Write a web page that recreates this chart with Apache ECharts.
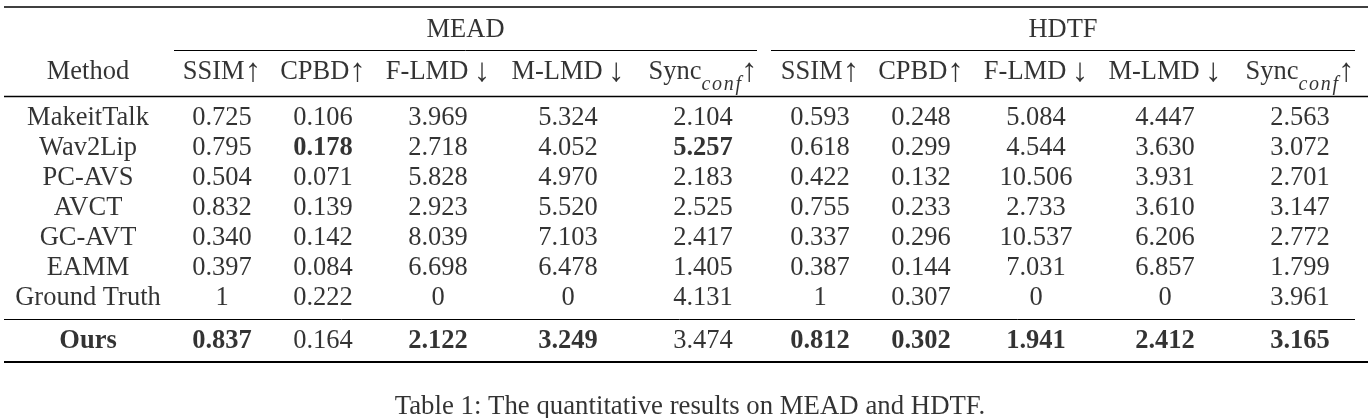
<!DOCTYPE html>
<html>
<head>
<meta charset="utf-8">
<script src="https://cdn.jsdelivr.net/npm/echarts@6/dist/echarts.min.js"></script>
<style>
  html, body { margin: 0; padding: 0; background: #fff; }
  #chart { width: 1372px; height: 418px; }
</style>
</head>
<body>
<div id="chart"></div>
<script>
// ---------------- data ----------------
const methods = ['MakeitTalk', 'Wav2Lip', 'PC-AVS', 'AVCT', 'GC-AVT', 'EAMM', 'Ground Truth', 'Ours'];
const datasets = ['MEAD', 'HDTF'];
const metricNames = ['SSIM', 'CPBD', 'F-LMD', 'M-LMD', 'Sync'];
const metricArrows = ['↑', '↑', '↓', '↓', '↑'];

const meadSSIM = [0.725, 0.795, 0.504, 0.832, 0.340, 0.397, 1, 0.837];
const meadCPBD = [0.106, 0.178, 0.071, 0.139, 0.142, 0.084, 0.222, 0.164];
const meadFLMD = [3.969, 2.718, 5.828, 2.923, 8.039, 6.698, 0, 2.122];
const meadMLMD = [5.324, 4.052, 4.970, 5.520, 7.103, 6.478, 0, 3.249];
const meadSync = [2.104, 5.257, 2.183, 2.525, 2.417, 1.405, 4.131, 3.474];

const hdtfSSIM = [0.593, 0.618, 0.422, 0.755, 0.337, 0.387, 1, 0.812];
const hdtfCPBD = [0.248, 0.299, 0.132, 0.233, 0.296, 0.144, 0.307, 0.302];
const hdtfFLMD = [5.084, 4.544, 10.506, 2.733, 10.537, 7.031, 0, 1.941];
const hdtfMLMD = [4.447, 3.630, 3.931, 3.610, 6.206, 6.857, 0, 2.412];
const hdtfSync = [2.563, 3.072, 2.701, 3.147, 2.772, 1.799, 3.961, 3.165];

// bold (best) cells: [method, column index among the 10 metric columns]
const boldCells = [
  ['Wav2Lip', 1], ['Wav2Lip', 4],
  ['Ours', 0], ['Ours', 2], ['Ours', 3],
  ['Ours', 5], ['Ours', 6], ['Ours', 7], ['Ours', 8], ['Ours', 9]
];
const boldMethods = ['Ours'];
const caption = 'Table 1: The quantitative results on MEAD and HDTF.';

// ---------------- layout (positions / styles) ----------------
const W = 1372, H = 418;
const FONT = '"Liberation Serif", "Times New Roman", "DejaVu Serif", serif';
const FS = 26.5;
const colX = [88, 222, 323, 438, 568, 703, 820, 921, 1036, 1165, 1300]; // method + 10 metric columns
const groupSpan = [[174, 757], [771, 1355]];
const rowTitleY = 28, rowHeadY = 70, bodyY0 = 116, bodyStep = 30, oursY = 339, captionY = 405;
const textDY = 2;
const rules = [
  { x1: 4, x2: 1368, y: 6.8, w: 1.5 },
  { x1: groupSpan[0][0], x2: groupSpan[0][1], y: 50, w: 1 },
  { x1: groupSpan[1][0], x2: groupSpan[1][1], y: 50, w: 1 },
  { x1: 4, x2: 1368, y: 95.8, w: 1.3 },
  { x1: 4, x2: 1355, y: 319, w: 1 },
  { x1: 4, x2: 1368, y: 362, w: 2 }
];

// ---------------- build ----------------
const columns = [meadSSIM, meadCPBD, meadFLMD, meadMLMD, meadSync,
                 hdtfSSIM, hdtfCPBD, hdtfFLMD, hdtfMLMD, hdtfSync];
const fmt = v => Number.isInteger(v) ? String(v) : v.toFixed(3);
const rowY = i => (methods[i] === 'Ours' ? oursY : bodyY0 + i * bodyStep);
const isBold = (m, c) => boldCells.some(b => b[0] === m && b[1] === c);

const baseLabel = {
  show: true, position: 'inside', align: 'center', verticalAlign: 'middle',
  color: '#000', fontFamily: FONT, fontSize: FS, offset: [0, textDY]
};

const headRich = {
  m: { fontFamily: FONT, fontSize: FS, color: '#000', lineHeight: 46 },
  a: { fontFamily: FONT, fontSize: 33, color: '#000', lineHeight: 46 },
  s: { fontFamily: FONT, fontSize: 20, fontStyle: 'italic', color: '#000', lineHeight: 20, verticalAlign: 'bottom' }
};

const cells = [];
function addText(x, y, text, extra) {
  cells.push({
    value: [x, y],
    label: Object.assign({}, baseLabel, { formatter: text }, extra || {})
  });
}

// group titles
datasets.forEach((d, i) => addText((groupSpan[i][0] + groupSpan[i][1]) / 2, rowTitleY, d));
// header row
addText(colX[0], rowHeadY, 'Method');
datasets.forEach((d, di) => {
  metricNames.forEach((m, mi) => {
    const x = colX[1 + di * 5 + mi];
    const arrow = metricArrows[mi];
    let txt;
    if (m === 'Sync') {
      txt = '{m|Sync}{s|c\u200Ao\u200An\u200Af}{a|' + arrow + '}';
    } else if (arrow === '↓') {
      txt = '{m|' + m + '\u2009}{a|' + arrow + '}';
    } else {
      txt = '{m|' + m + '}{a|' + arrow + '}';
    }
    addText(x, rowHeadY, txt, { rich: headRich });
  });
});
// body
methods.forEach((m, ri) => {
  const y = rowY(ri);
  addText(colX[0], y, m, boldMethods.includes(m) ? { fontWeight: 'bold' } : {});
  columns.forEach((col, ci) => {
    addText(colX[ci + 1], y, fmt(col[ri]), isBold(m, ci) ? { fontWeight: 'bold' } : {});
  });
});
// caption
addText(690, captionY, caption, { fontSize: 26.8 });

const chart = echarts.init(document.getElementById('chart'), null, { renderer: 'canvas' });
chart.setOption({
  animation: false,
  backgroundColor: '#fff',
  grid: { left: 0, right: 0, top: 0, bottom: 0 },
  xAxis: { type: 'value', min: 0, max: W, show: false },
  yAxis: { type: 'value', min: 0, max: H, inverse: true, show: false },
  series: [{
    type: 'scatter',
    symbolSize: 0,
    silent: true,
    data: cells,
    markLine: {
      silent: true,
      symbol: 'none',
      label: { show: false },
      data: rules.map(r => [
        { coord: [r.x1, r.y], lineStyle: { color: '#000', width: r.w, type: 'solid' } },
        { coord: [r.x2, r.y] }
      ])
    }
  }]
});
</script>
</body>
</html>
